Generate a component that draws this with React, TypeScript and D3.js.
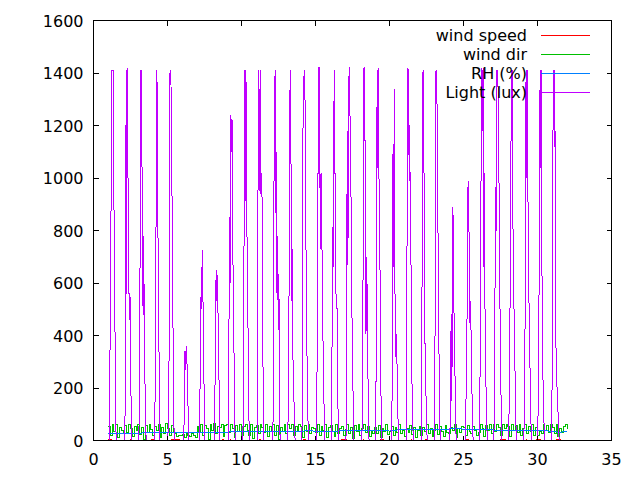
import React from "react";
import * as d3 from "d3";

// ---- data (time in days) ----
const X_TICKS = [0, 5, 10, 15, 20, 25, 30, 35];
const Y_TICKS = [0, 200, 400, 600, 800, 1000, 1200, 1400, 1600];
const SERIES_NAMES = ["wind speed", "wind dir", "RH (%)", "Light (lux)"];
const SERIES_COLORS = ["#ff0000", "#00c000", "#0080ff", "#c000ff"];

// Light: sunrise time of each day and hourly readings through daylight
const LIGHT_STEP = 1 / 24;
const LIGHT_START = [1.07, 2.09, 3.06, 4.12, 5.02, 6.1, 7.16, 8.17, 9.12, 10.08, 11.05, 12.11, 13.12, 14.07, 15.04, 16.05, 17.06, 18.12, 19.05, 20.11, 21.12, 22.13, 23.03, 24.05, 25.11, 26.07, 27.05, 28.03, 29.06, 30.01, 30.92];
const LIGHT_DAYS: number[][] = [
  [0, 300, 660, 950, 1410, 1410, 1410, 1170, 670, 470, 190, 0],
  [0, 100, 1200, 560, 1410, 1420, 900, 640, 460, 560, 280, 115, 0],
  [0, 150, 660, 1410, 1410, 1150, 700, 480, 780, 380, 230, 76, 0],
  [0, 165, 690, 940, 1410, 1000, 690, 470, 100, 0],
  [0, 76, 305, 1380, 1410, 1410, 1140, 890, 636, 180, 50, 0],
  [0, 150, 340, 270, 360, 300, 270, 110, 0],
  [0, 220, 425, 660, 500, 725, 460, 280, 100, 0],
  [0, 220, 610, 530, 650, 560, 470, 330, 110, 0],
  [0, 520, 850, 600, 1240, 1100, 1220, 725, 570, 330, 76, 0],
  [0, 100, 610, 1410, 914, 1410, 1300, 775, 520, 380, 100, 0],
  [0, 650, 1170, 1410, 950, 1410, 940, 1020, 950, 545, 150, 0],
  [0, 150, 950, 1340, 1410, 866, 1100, 535, 780, 420, 636, 127, 0],
  [0, 127, 445, 1040, 1410, 1410, 530, 740, 380, 270, 165, 100, 0],
  [0, 110, 1180, 1340, 1410, 1410, 1050, 700, 430, 240, 90, 0],
  [0, 110, 405, 960, 1420, 1420, 1090, 730, 1020, 780, 690, 405, 290, 110, 0],
  [0, 127, 520, 815, 660, 1410, 1120, 890, 560, 520, 495, 178, 0],
  [0, 445, 1180, 670, 1020, 1420, 1420, 1067, 990, 600, 430, 270, 64, 0],
  [0, 64, 445, 1410, 1420, 1420, 730, 405, 700, 545, 300, 76, 0],
  [0, 240, 1090, 1410, 1040, 1420, 890, 725, 545, 178, 0],
  [0, 100, 215, 1090, 660, 1340, 660, 320, 405, 340, 255, 100, 0],
  [0, 460, 990, 1420, 1390, 990, 1200, 730, 670, 340, 140, 50, 0],
  [0, 100, 900, 1400, 1410, 950, 430, 300, 178, 76, 0],
  [0, 290, 1400, 1410, 1410, 1015, 780, 430, 255, 50, 0],
  [0, 50, 340, 480, 150, 890, 850, 545, 405, 255, 76, 0],
  [0, 100, 230, 430, 914, 990, 840, 700, 430, 530, 330, 200, 64, 0],
  [0, 178, 690, 1090, 1420, 1180, 1420, 660, 1020, 545, 330, 178, 64, 0],
  [0, 150, 620, 965, 800, 1410, 1410, 1324, 1107, 790, 500, 300, 100, 0],
  [0, 76, 340, 570, 1000, 1410, 1410, 1000, 660, 520, 430, 230, 100, 0],
  [0, 65, 357, 570, 1410, 1000, 1410, 970, 636, 495, 345, 180, 65, 0],
  [0, 155, 330, 1335, 1040, 1410, 1410, 650, 357, 180, 100, 0],
  [0, 76, 330, 1160, 1410, 1120, 1410, 670, 330, 230, 180, 115, 76, 0],
];

// Wind direction: every 3 h from day 1.0
const DIR_START = 1.0;
const DIR_STEP = 0.125;
const WIND_DIR = [
  55, 20, 60, 35, 62, 10, 50, 40,
  25, 58, 30, 62, 45, 15, 55, 38,
  60, 22, 48, 5, 58, 30, 62, 42,
  18, 55, 40, 60, 12, 50, 28, 63,
  45, 20, 58, 35, 25, 15, 20, 18,
  22, 12, 25, 18, 15, 28, 20, 10,
  55, 30, 62, 20, 58, 45, 5, 60,
  38, 63, 25, 55, 48, 62, 15, 58,
  62, 30, 60, 45, 10, 58, 35, 62,
  20, 55, 62, 40, 18, 60, 8, 50,
  58, 25, 62, 48, 30, 60, 15, 55,
  40, 62, 20, 58, 5, 50, 35, 60,
  25, 60, 45, 62, 18, 55, 38, 62,
  55, 10, 58, 35, 62, 28, 50, 45,
  30, 62, 20, 55, 40, 60, 12, 48,
  58, 35, 15, 60, 25, 45, 55, 20,
  42, 60, 25, 50, 8, 58, 35, 62,
  20, 45, 60, 30, 55, 15, 40, 25,
  50, 28, 58, 10, 45, 35, 60, 22,
  35, 55, 18, 48, 30, 62, 25, 40,
  15, 45, 30, 58, 22, 50, 10, 40,
  55, 20, 48, 35, 60, 28, 45, 15,
  40, 62, 22, 55, 35, 15, 58, 30,
  25, 50, 38, 60, 12, 45, 30, 55,
  48, 20, 58, 35, 25, 55, 40, 18,
  30, 62, 45, 15, 58, 38, 62, 25,
  60, 35, 62, 50, 20, 60, 45, 62,
  55, 15, 62, 40, 58, 30, 62, 20,
  45, 62, 25, 55, 35, 60, 18, 50,
  20, 35, 25, 62, 40, 58, 30, 62,
  50, 25, 60, 15, 45, 30, 55, 62,
  45,
];

// RH: every 12 h from day 1.0
const RH_START = 1.0;
const RH_STEP = 0.5;
const RH = [
  27, 27, 28, 28, 28, 29, 29, 29, 30, 30,
  30, 31, 31, 31, 32, 32, 32, 33, 33, 33,
  33, 34, 34, 34, 35, 35, 35, 38, 35, 35,
  36, 36, 37, 37, 38, 38, 39, 39, 40, 40,
  41, 41, 42, 42, 43, 43, 43, 47, 43, 42,
  41, 41, 40, 40, 39, 39, 38, 38, 37, 37,
  35, 31, 36,
];

// Wind speed: every 6 h from day 1.0
const WS_START = 1.0;
const WS_STEP = 0.25;
const WIND_SPEED = [
  3, 2, 0, 1, 0, 0, 2, 0,
  0, 1, 0, 0, 3, 0, 0, 1,
  0, 2, 3, 3, 0, 1, 0, 0,
  0, 0, 2, 0, 1, 0, 0, 3,
  0, 2, 0, 0, 1, 0, 2, 0,
  0, 3, 0, 1, 0, 0, 2, 0,
  1, 0, 0, 2, 0, 3, 0, 0,
  0, 2, 0, 0, 1, 0, 0, 2,
  3, 0, 0, 1, 0, 2, 0, 0,
  0, 1, 3, 0, 0, 2, 0, 1,
  0, 0, 2, 0, 1, 0, 3, 0,
  2, 0, 0, 1, 0, 0, 2, 0,
  0, 3, 0, 0, 1, 2, 0, 0,
  1, 0, 2, 3, 0, 0, 1, 0,
  0, 2, 0, 0, 3, 2, 0, 1,
  0, 2, 3, 0, 1,
];

type Pt = [number, number];

const regular = (start: number, step: number, vals: number[]): Pt[] =>
  vals.map((v, i) => [start + i * step, v]);

const lightPoints: Pt[] = LIGHT_DAYS.flatMap((vals, d) =>
  regular(LIGHT_START[d], LIGHT_STEP, vals)
);

const W = 640;
const H = 480;
const LEFT = 93.5;
const RIGHT = 611.5;
const TOP = 20.5;
const BOTTOM = 440.5;
const TICK = 5;
const FONT = "'DejaVu Sans', sans-serif";

export default function App() {
  const x = d3.scaleLinear().domain([0, 35]).range([LEFT, RIGHT]);
  const y = d3.scaleLinear().domain([0, 1600]).range([BOTTOM, TOP]);
  const line = d3
    .line<Pt>()
    .x((p) => x(p[0]))
    .y((p) => y(p[1]));
  const stepLine = d3
    .line<Pt>()
    .curve(d3.curveStepAfter)
    .x((p) => x(p[0]))
    .y((p) => y(p[1]));

  const series: Pt[][] = [
    regular(WS_START, WS_STEP, WIND_SPEED),
    regular(DIR_START, DIR_STEP, WIND_DIR),
    regular(RH_START, RH_STEP, RH),
    lightPoints,
  ];

  const legendY = [35, 54, 73, 92];

  return (
    <svg
      width={W}
      height={H}
      style={{ position: "absolute", left: 0, top: 0, background: "#fff" }}
      fontFamily={FONT}
      fontSize={16}
    >
      <rect x={0} y={0} width={W} height={H} fill="#fff" />
      {series.map((s, i) => (
        <path
          key={i}
          d={(i === 1 ? stepLine(s) : line(s)) || ""}
          fill="none"
          stroke={SERIES_COLORS[i]}
          strokeWidth={1}
          shapeRendering="crispEdges"
        />
      ))}
      {/* legend */}
      {SERIES_NAMES.map((n, i) => (
        <g key={n}>
          <text x={527} y={legendY[i] + 5.5} textAnchor="end" fill="#000">
            {n}
          </text>
          <line
            x1={541}
            x2={590}
            y1={legendY[i] + 0.5}
            y2={legendY[i] + 0.5}
            stroke={SERIES_COLORS[i]}
            strokeWidth={1}
            shapeRendering="crispEdges"
          />
        </g>
      ))}
      {/* border */}
      <rect
        x={LEFT}
        y={TOP}
        width={RIGHT - LEFT}
        height={BOTTOM - TOP}
        fill="none"
        stroke="#000"
        strokeWidth={1}
        shapeRendering="crispEdges"
      />
      {/* y ticks */}
      {Y_TICKS.map((t) => (
        <g key={"y" + t}>
          <line x1={LEFT} x2={LEFT + TICK} y1={y(t)} y2={y(t)} stroke="#000" shapeRendering="crispEdges" />
          <line x1={RIGHT} x2={RIGHT - TICK} y1={y(t)} y2={y(t)} stroke="#000" shapeRendering="crispEdges" />
          <text x={LEFT - 10} y={y(t) + 6} textAnchor="end" fill="#000">
            {t}
          </text>
        </g>
      ))}
      {/* x ticks */}
      {X_TICKS.map((t) => (
        <g key={"x" + t}>
          <line x1={x(t)} x2={x(t)} y1={BOTTOM} y2={BOTTOM - TICK} stroke="#000" shapeRendering="crispEdges" />
          <line x1={x(t)} x2={x(t)} y1={TOP} y2={TOP + TICK} stroke="#000" shapeRendering="crispEdges" />
          <text x={x(t)} y={465} textAnchor="middle" fill="#000">
            {t}
          </text>
        </g>
      ))}
    </svg>
  );
}
